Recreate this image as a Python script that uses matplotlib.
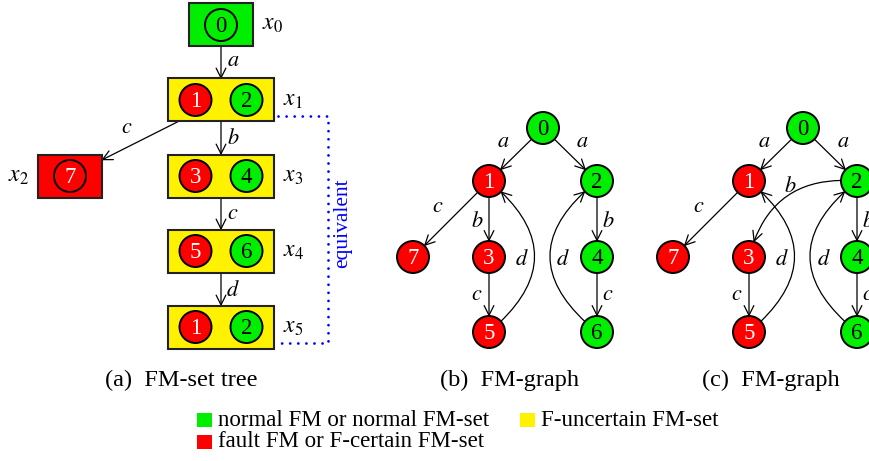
import matplotlib
matplotlib.use("Agg")
import matplotlib.pyplot as plt
from matplotlib.patches import Circle, Rectangle, FancyArrowPatch

plt.rcParams['font.family'] = ['Liberation Serif', 'DejaVu Serif']
plt.rcParams['mathtext.fontset'] = 'stix'

GREEN = '#00ee00'
RED = '#ff0000'
YELLOW = '#fff200'
BLUE = '#0000ff'

# ---- data ----
# (a) FM-set tree
set_names = ['x_0', 'x_1', 'x_2', 'x_3', 'x_4', 'x_5']
set_members = [[0], [1, 2], [7], [3, 4], [5, 6], [1, 2]]
set_kind = ['normal', 'uncertain', 'fault', 'uncertain', 'uncertain', 'uncertain']
tree_edges = [(0, 1, 'a'), (1, 2, 'c'), (1, 3, 'b'), (3, 4, 'c'), (4, 5, 'd')]
equivalent_pair = (1, 5)

# (b), (c) FM-graphs
fm_states = [0, 1, 2, 3, 4, 5, 6, 7]
fault_fms = [1, 3, 5, 7]
graph_b_edges = [(0, 1, 'a'), (0, 2, 'a'), (1, 7, 'c'), (1, 3, 'b'), (3, 5, 'c'),
                 (5, 1, 'd'), (2, 4, 'b'), (4, 6, 'c'), (6, 2, 'd')]
graph_c_edges = [(0, 1, 'a'), (0, 2, 'a'), (1, 7, 'c'), (2, 3, 'b'), (3, 5, 'c'),
                 (5, 1, 'd'), (2, 4, 'b'), (4, 6, 'c'), (6, 2, 'd')]

captions = ['(a)  FM-set tree', '(b)  FM-graph', '(c)  FM-graph']
legend_labels = ['normal FM or normal FM-set', 'F-uncertain FM-set',
                 'fault FM or F-certain FM-set']
legend_colors = [GREEN, YELLOW, RED]

kind_color = {'normal': GREEN, 'uncertain': YELLOW, 'fault': RED}

# ---- layout (pixels) ----
tree_pos = {0: (221, 25), 1: (221, 100), 2: (70, 176), 3: (221, 176), 4: (221, 251), 5: (221, 327)}
tree_label_side = {0: 1, 1: 1, 2: -1, 3: 1, 4: 1, 5: 1}
tree_edge_lab = {(0, 1): (233, 62), (1, 2): (127, 128), (1, 3): (233, 139),
                 (3, 4): (233, 214), (4, 5): (233, 291)}

node_off = {0: (0, 0), 1: (-54, 53), 2: (54, 53), 7: (-130, 129), 3: (-54, 129),
            5: (-54, 204), 4: (54, 129), 6: (54, 204)}
graph_roots = [(543, 128), (803, 128)]
lab_b = {(0, 1): (-40, 14), (0, 2): (39, 14), (1, 7): (-105, 79), (1, 3): (-66, 94),
         (3, 5): (-66, 167), (5, 1): (-21, 132), (6, 2): (20, 132), (2, 4): (65, 94),
         (4, 6): (65, 167)}
lab_c = {(0, 1): (-39, 14), (0, 2): (40, 14), (2, 3): (-13, 59), (1, 7): (-104, 79),
         (3, 5): (-66, 167), (5, 1): (-21, 132), (6, 2): (21, 132), (2, 4): (65, 94),
         (4, 6): (65, 167)}
bend = {(5, 1): 0.6, (6, 2): -0.62, (2, 3): 0.42}
R = 16
BOX_H = 43

fig = plt.figure(figsize=(8.69, 4.61), dpi=100)
ax = fig.add_axes([0, 0, 1, 1])
ax.set_xlim(0, 869)
ax.set_ylim(461, 0)
ax.axis('off')


def arrow(pa, pb, patchA, patchB, rad=0.0):
    ar = FancyArrowPatch(pa, pb, patchA=patchA, patchB=patchB, shrinkA=0, shrinkB=0,
                         arrowstyle='->,head_length=0.5,head_width=0.25',
                         connectionstyle='arc3,rad=%s' % rad,
                         mutation_scale=14, lw=0.9, color='black', zorder=2)
    ax.add_patch(ar)


def fm_circle(cx, cy, state):
    fc = RED if state in fault_fms else GREEN
    tc = 'white' if state in fault_fms else 'black'
    c = Circle((cx, cy), R, facecolor=fc, edgecolor='black', lw=1.4, zorder=4)
    ax.add_patch(c)
    ax.text(cx, cy + 1, str(state), ha='center', va='center', fontsize=16.5,
            color=tc, zorder=5)
    return c


# (a) tree
boxes = {}
for i, name in enumerate(set_names):
    cx, cy = tree_pos[i]
    w = 64 if len(set_members[i]) == 1 else 106
    rect = Rectangle((cx - w / 2, cy - BOX_H / 2), w, BOX_H,
                     facecolor=kind_color[set_kind[i]], edgecolor='#222222', lw=1.5, zorder=3)
    ax.add_patch(rect)
    boxes[i] = rect
    if len(set_members[i]) == 1:
        fm_circle(cx, cy, set_members[i][0])
    else:
        fm_circle(cx - 25.5, cy, set_members[i][0])
        fm_circle(cx + 25.5, cy, set_members[i][1])
    side = tree_label_side[i]
    ax.text(cx + side * (w / 2 + 9), cy, '$%s$' % name, ha='left' if side > 0 else 'right',
            va='center', fontsize=17)

for s, d, lab in tree_edges:
    arrow(tree_pos[s], tree_pos[d], boxes[s], boxes[d])
    lx, ly = tree_edge_lab[(s, d)]
    ax.text(lx, ly, '$%s$' % lab, ha='center', va='center', fontsize=16)

# dotted "equivalent" bracket
e0, e1 = equivalent_pair
r0 = boxes[e0].get_x() + boxes[e0].get_width()
r1 = boxes[e1].get_x() + boxes[e1].get_width()
y0 = tree_pos[e0][1] + 16
y1 = tree_pos[e1][1] + 16
xb = 328
ax.plot([r0 + 4, xb, xb, r1 + 4], [y0, y0, y1, y1], color=BLUE, lw=2.0,
        linestyle=(0, (0.01, 2.9)), dash_capstyle='round', zorder=1)
ax.text(xb + 15, 223, 'equivalent', rotation=90, ha='center', va='center',
        color=BLUE, fontsize=15.5)

# (b), (c) graphs
for (rx, ry), edges, labs in zip(graph_roots, [graph_b_edges, graph_c_edges], [lab_b, lab_c]):
    pos = {s: (rx + node_off[s][0], ry + node_off[s][1]) for s in fm_states}
    circ = {s: fm_circle(pos[s][0], pos[s][1], s) for s in fm_states}
    for s, d, lab in edges:
        arrow(pos[s], pos[d], circ[s], circ[d], bend.get((s, d), 0.0))
        ox, oy = labs[(s, d)]
        ax.text(rx + ox, ry + oy, '$%s$' % lab, ha='center', va='center', fontsize=16)

# captions
for x, cap in zip([181, 509, 771], captions):
    ax.text(x, 380, cap, ha='center', va='center', fontsize=17.5)

# legend
leg_xy = [(197, 420), (520, 420), (197, 441.5)]
for (lx, ly), lab, col in zip(leg_xy, legend_labels, legend_colors):
    ax.add_patch(Rectangle((lx, ly - 7), 15, 14, facecolor=col, edgecolor='none'))
    ax.text(lx + 21, ly, lab, ha='left', va='center', fontsize=16.5)

fig.savefig('out.png', dpi=100)
